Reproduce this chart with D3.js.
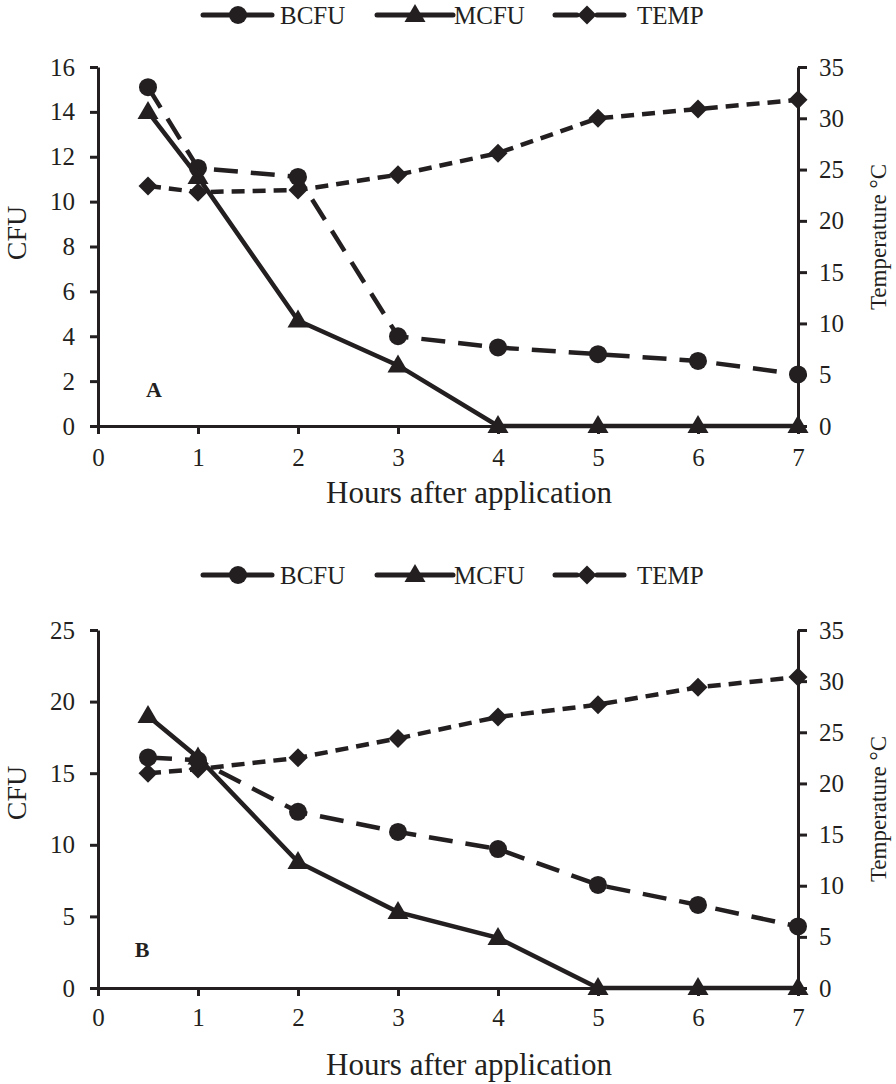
<!DOCTYPE html>
<html>
<head>
<meta charset="utf-8">
<script src="https://cdn.jsdelivr.net/npm/d3@7"></script>
<style>
  body { margin: 0; background: #fff; }
  svg { display: block; }
  text { font-family: "Liberation Serif", "Times New Roman", serif; fill: #231f20; }
</style>
</head>
<body>
<svg id="chart" width="896" height="1084"></svg>
<script>
// ---- data ----
const hours = [0.5, 1, 2, 3, 4, 5, 6, 7];
const xTicks = [0, 1, 2, 3, 4, 5, 6, 7];
const tempTicks = [0, 5, 10, 15, 20, 25, 30, 35];

const bcfuA = [15.1, 11.5, 11.1, 4.0, 3.5, 3.2, 2.9, 2.3];
const mcfuA = [14.0, 11.1, 4.7, 2.7, 0, 0, 0, 0];
const tempA = [23.4, 22.8, 23.0, 24.5, 26.6, 30.0, 30.9, 31.8];
const cfuTicksA = [0, 2, 4, 6, 8, 10, 12, 14, 16];

const bcfuB = [16.1, 15.9, 12.3, 10.9, 9.7, 7.2, 5.8, 4.3];
const mcfuB = [19.0, 16.1, 8.8, 5.3, 3.5, 0, 0, 0];
const tempB = [21.0, 21.4, 22.5, 24.4, 26.5, 27.7, 29.4, 30.4];
const cfuTicksB = [0, 5, 10, 15, 20, 25];

const seriesNames = ["BCFU", "MCFU", "TEMP"];

// ---- drawing ----
const svg = d3.select("#chart");
const ink = "#231f20";

const panels = [
  { label: "A", bcfu: bcfuA, mcfu: mcfuA, temp: tempA, cfuTicks: cfuTicksA, cfuMax: 16,
    top: 67, bottom: 426, legendY: 15, labelPos: [154, 397], xLabY: 457, xTitleY: 503,
    cfuTitleY: 233, tempTitleY: 237 },
  { label: "B", bcfu: bcfuB, mcfu: mcfuB, temp: tempB, cfuTicks: cfuTicksB, cfuMax: 25,
    top: 630, bottom: 988, legendY: 575, labelPos: [142, 957], xLabY: 1017, xTitleY: 1075,
    cfuTitleY: 793, tempTitleY: 809 }
];

const left = 98, right = 798;
const x = d3.scaleLinear().domain([0, 7]).range([left, right]);

const styles = {
  BCFU: { dash: "24,13", marker: "circle" },
  MCFU: { dash: null, marker: "triangle" },
  TEMP: { dash: "13,8", marker: "diamond" }
};

function marker(g, type, cx, cy) {
  if (type === "circle") {
    g.append("circle").attr("cx", cx).attr("cy", cy).attr("r", 9).attr("fill", ink);
  } else if (type === "triangle") {
    g.append("path").attr("d", `M${cx},${cy - 11} L${cx + 10.5},${cy + 7} L${cx - 10.5},${cy + 7} Z`).attr("fill", ink);
  } else {
    g.append("path").attr("d", `M${cx},${cy - 9.5} L${cx + 9.5},${cy} L${cx},${cy + 9.5} L${cx - 9.5},${cy} Z`).attr("fill", ink);
  }
}

panels.forEach(p => {
  const g = svg.append("g");
  const yL = d3.scaleLinear().domain([0, p.cfuMax]).range([p.bottom, p.top]);
  const yR = d3.scaleLinear().domain([0, 35]).range([p.bottom, p.top]);

  // axes
  const xAxis = g.append("g").attr("transform", `translate(0,${p.bottom})`)
    .call(d3.axisBottom(x).tickValues(xTicks).tickFormat(d3.format("d")).tickSize(8).tickPadding(0).tickSizeOuter(0));
  const yAxisL = g.append("g").attr("transform", `translate(${left},0)`)
    .call(d3.axisLeft(yL).tickValues(p.cfuTicks).tickSize(8).tickPadding(15).tickSizeOuter(0));
  const yAxisR = g.append("g").attr("transform", `translate(${right},0)`)
    .call(d3.axisRight(yR).tickValues(tempTicks).tickSize(9).tickPadding(12).tickSizeOuter(0));

  [xAxis, yAxisL, yAxisR].forEach(a => {
    a.select(".domain").attr("stroke", ink).attr("stroke-width", 3);
    a.selectAll(".tick line").attr("stroke", ink).attr("stroke-width", 3);
    a.selectAll(".tick text").attr("fill", ink).style("font-size", "25px")
      .style("font-family", '"Liberation Serif", serif');
  });
  xAxis.selectAll(".tick text").attr("y", p.xLabY - p.bottom).attr("dy", "0.35em");

  // axis titles
  g.append("text").attr("x", 469).attr("y", p.xTitleY)
    .attr("text-anchor", "middle").style("font-size", "31px").text("Hours after application");
  g.append("text").attr("transform", `translate(26,${p.cfuTitleY}) rotate(-90)`)
    .attr("text-anchor", "middle").style("font-size", "28px").text("CFU");
  g.append("text").attr("transform", `translate(886,${p.tempTitleY}) rotate(-90)`)
    .attr("text-anchor", "middle").style("font-size", "23px").text("Temperature °C");

  // series
  const series = [
    { name: "BCFU", vals: p.bcfu, y: yL },
    { name: "MCFU", vals: p.mcfu, y: yL },
    { name: "TEMP", vals: p.temp, y: yR }
  ];
  const drawOrder = [series[1], series[2], series[0]];
  drawOrder.forEach(s => {
    const line = d3.line().x((d, i) => x(hours[i])).y(d => s.y(d));
    g.append("path").datum(s.vals).attr("d", line)
      .attr("fill", "none").attr("stroke", ink).attr("stroke-width", 4.5)
      .attr("stroke-dasharray", styles[s.name].dash);
    s.vals.forEach((v, i) => marker(g, styles[s.name].marker, x(hours[i]), s.y(v)));
  });

  // panel label
  g.append("text").attr("x", p.labelPos[0]).attr("y", p.labelPos[1])
    .attr("text-anchor", "middle").style("font-size", "22px").style("font-weight", "bold").text(p.label);

  // legend
  const lg = g.append("g");
  const legendItems = [
    { name: "BCFU", segs: [[203, 229], [246, 272]], cx: 238, tx: 280 },
    { name: "MCFU", segs: [[377, 453]], cx: 415, tx: 454 },
    { name: "TEMP", segs: [[555, 577], [597, 624]], cx: 587, tx: 637 }
  ];
  legendItems.forEach(it => {
    it.segs.forEach(s => {
      lg.append("line").attr("x1", s[0]).attr("x2", s[1]).attr("y1", p.legendY).attr("y2", p.legendY)
        .attr("stroke", ink).attr("stroke-width", 5).attr("stroke-linecap", "round");
    });
    marker(lg, styles[it.name].marker, it.cx, p.legendY);
    lg.append("text").attr("x", it.tx).attr("y", p.legendY).attr("dy", "0.35em")
      .style("font-size", "25px").text(it.name);
  });
});
</script>
</body>
</html>
